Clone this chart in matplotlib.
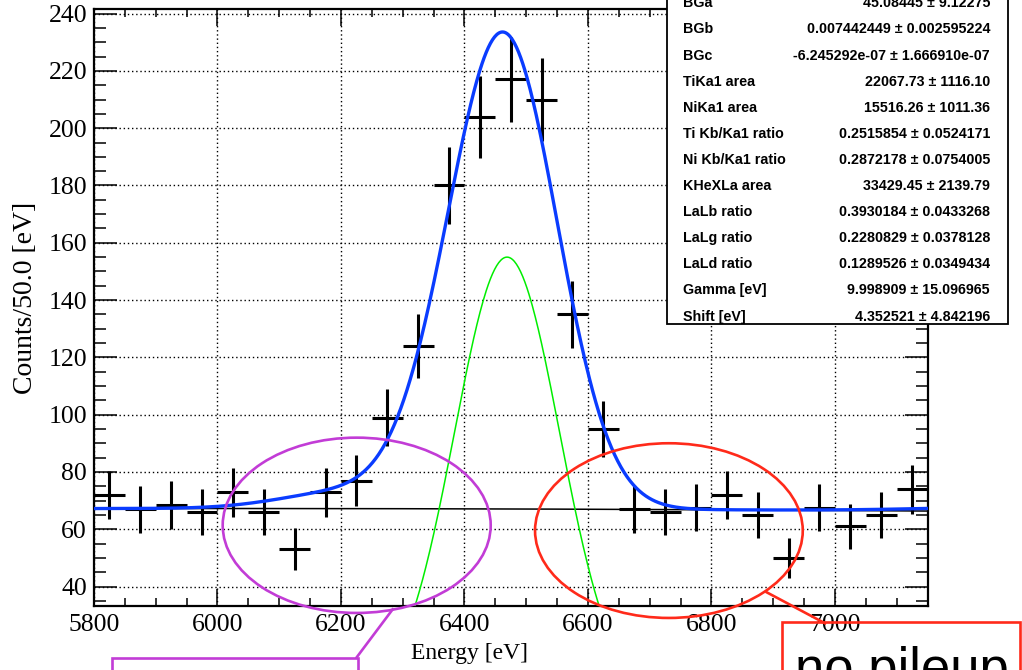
import numpy as np
import matplotlib
matplotlib.use("Agg")
import matplotlib.pyplot as plt
from matplotlib.patches import Ellipse, Rectangle
from matplotlib.lines import Line2D
from matplotlib.ticker import MultipleLocator

# ---- data (counts per 50 eV bin) ----
energy = np.arange(5825, 7150, 50)
counts = [72, 67, 68.5, 66, 73, 66, 53, 73, 77, 99, 124, 180, 204, 217, 210,
          135, 95, 67, 66, 67.5, 72, 65, 50, 67.5, 61, 65, 74]
errors = np.sqrt(counts)
bin_half = 25

# fit pieces
bg_params = [45.08445, 0.007442449, -6.245292e-07]
main_line = (155, 6469, 85)          # green component: amp, mean, sigma
extra_lines = [(20, 6380, 80), (5.5, 6200, 100), (1.5, 7300, 150)]

stat_names = ["BGa", "BGb", "BGc", "TiKa1 area", "NiKa1 area", "Ti Kb/Ka1 ratio",
              "Ni Kb/Ka1 ratio", "KHeXLa area", "LaLb ratio", "LaLg ratio",
              "LaLd ratio", "Gamma [eV]", "Shift [eV]"]
stat_values = ["45.08445 \u00b1 9.12275", "0.007442449 \u00b1 0.002595224",
               "-6.245292e-07 \u00b1 1.666910e-07", "22067.73 \u00b1 1116.10",
               "15516.26 \u00b1 1011.36", "0.2515854 \u00b1 0.0524171",
               "0.2872178 \u00b1 0.0754005", "33429.45 \u00b1 2139.79",
               "0.3930184 \u00b1 0.0433268", "0.2280829 \u00b1 0.0378128",
               "0.1289526 \u00b1 0.0349434", "9.998909 \u00b1 15.096965",
               "4.352521 \u00b1 4.842196"]


def gauss(x, a, m, s):
    return a * np.exp(-0.5 * ((x - m) / s) ** 2)


W, H = 1022, 670
def fx(px):
    return px / W
def fy(py):
    return 1 - py / H


fig = plt.figure(figsize=(W / 100, H / 100), dpi=100)
ax = fig.add_axes([fx(94), fy(605.5), fx(927.5) - fx(94), fy(9.3) - fy(605.5)])

xs = np.linspace(5800, 7150, 800)
bg = bg_params[0] + bg_params[1] * xs + bg_params[2] * xs ** 2
green = gauss(xs, *main_line)
total = bg + green
for comp in extra_lines:
    total = total + gauss(xs, *comp)

ax.plot(xs, bg, color="black", lw=1.1, zorder=3)
ax.plot(xs, green, color="#00ee00", lw=1.1, zorder=3)
ax.errorbar(energy, counts, yerr=errors, xerr=bin_half, fmt="none",
            ecolor="black", elinewidth=2.2, capsize=0, zorder=4)
ax.plot(xs, total, color="#0a3cff", lw=2.4, zorder=5)

ax.set_xlim(5800, 7150)
ax.set_ylim(33.4, 241.5)
ax.xaxis.set_major_locator(MultipleLocator(200))
ax.xaxis.set_minor_locator(MultipleLocator(50))
ax.yaxis.set_major_locator(MultipleLocator(20))
ax.yaxis.set_minor_locator(MultipleLocator(5))
ax.grid(True, which="major", color="black", lw=1.0, linestyle=(0, (1, 2)))
ax.tick_params(direction="in", top=True, right=True, width=1.1,
               labelsize=18.5, labelfontfamily="Liberation Serif")
ax.tick_params(axis="y", which="major", length=16.5, pad=5)
ax.tick_params(axis="y", which="minor", length=8.6, width=1.1, direction="in", right=True)
ax.tick_params(axis="x", which="major", length=12, pad=6)
ax.tick_params(axis="x", which="minor", length=6, width=1.1, direction="in", top=True)
for sp in ax.spines.values():
    sp.set_linewidth(1.6)

ax.set_xlabel("Energy [eV]", fontsize=17, family="Liberation Serif")
ax.set_ylabel("Counts/50.0 [eV]", fontsize=20, family="Liberation Serif")
ax.xaxis.set_label_coords((469 - 94) / 833.5, (605.5 - 653) / 596.2)
ax.xaxis.label.set_va("center")
ax.yaxis.set_label_coords((26 - 94) / 833.5, (605.5 - 298) / 596.2)
ax.yaxis.label.set_va("center")

# ---- stats box ----
box = Rectangle((fx(666.7), fy(324)), fx(1008.3) - fx(666.7), 1.1 - fy(324),
                transform=fig.transFigure, facecolor="white", edgecolor="black",
                lw=1.3, zorder=10)
fig.add_artist(box)
for i, (name, val) in enumerate(zip(stat_names, stat_values)):
    yy = fy(3.3 + 26.1 * i)
    fig.text(fx(683.3), yy, name, ha="left", va="center", fontsize=10.3,
             fontweight="bold", family="Liberation Sans", zorder=11)
    fig.text(fx(990), yy, val, ha="right", va="center", fontsize=10.3,
             fontweight="bold", family="Liberation Sans", zorder=11)

# ---- annotations ----
purple = "#c23cd6"
red = "#ff2a1a"
fig.add_artist(Ellipse((fx(356.7), fy(525.3)), fx(268), 175.3 / H,
                       transform=fig.transFigure, fill=False, edgecolor=purple,
                       lw=1.9, zorder=12))
fig.add_artist(Ellipse((fx(668.9), fy(530.6)), fx(267.7), 174.7 / H,
                       transform=fig.transFigure, fill=False, edgecolor=red,
                       lw=1.9, zorder=12))
fig.add_artist(Line2D([fx(392.7), fx(356.7)], [fy(609.3), fy(657.3)],
                      transform=fig.transFigure, color=purple, lw=1.9, zorder=12))
fig.add_artist(Line2D([fx(766.7), fx(825)], [fy(592.3), fy(623.3)],
                      transform=fig.transFigure, color=red, lw=1.9, zorder=12))
fig.add_artist(Rectangle((fx(111.7), fy(720)), fx(358.3) - fx(111.7), fy(657.5) - fy(720),
                         transform=fig.transFigure, fill=False, edgecolor=purple,
                         lw=1.9, zorder=12))
fig.add_artist(Rectangle((fx(781.7), fy(720)), fx(1020) - fx(781.7), fy(622) - fy(720),
                         transform=fig.transFigure, fill=False, edgecolor=red,
                         lw=1.9, zorder=12))
fig.text(fx(795), fy(685), "no pileup", ha="left", va="baseline", fontsize=38,
         family="Liberation Sans", color="black", zorder=13)

fig.savefig("out.png", dpi=100)
